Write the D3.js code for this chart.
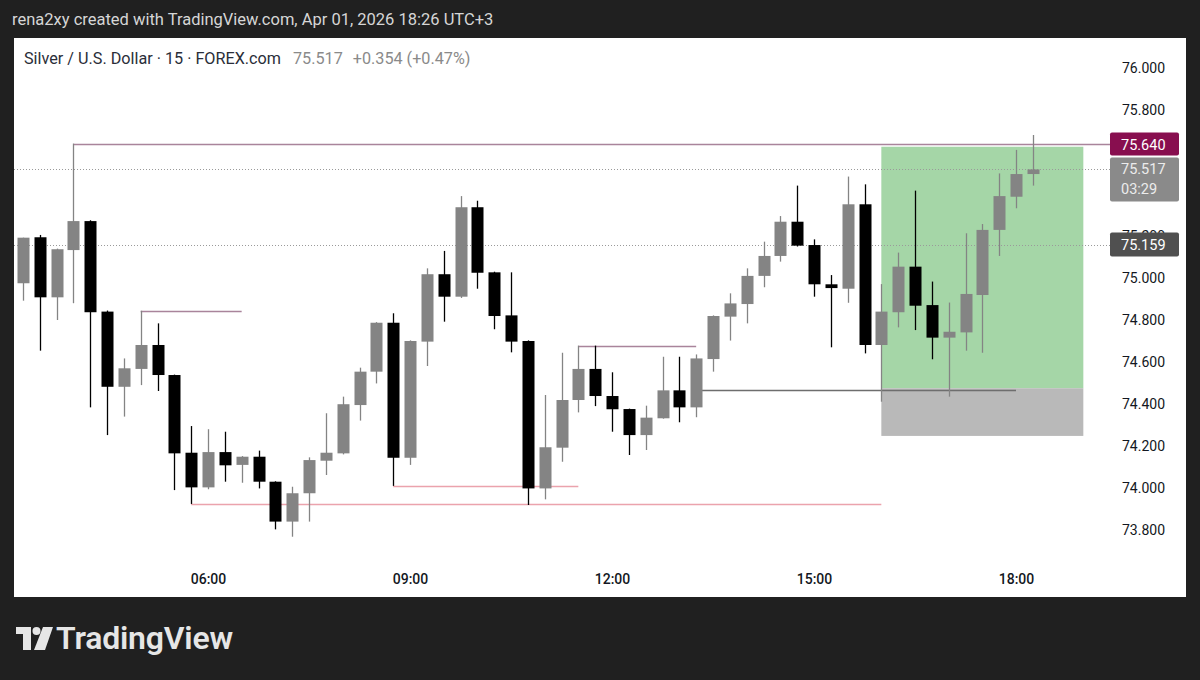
<!DOCTYPE html>
<html>
<head>
<meta charset="utf-8">
<script src="https://cdn.jsdelivr.net/npm/d3@7"></script>
<style>
  body { margin: 0; background: #202020; }
  svg { display: block; font-family: Roboto, "Noto Sans", sans-serif; }
</style>
</head>
<body>
<div id="chart"></div>
<script>
/**
 * CONSTANTS AND GLOBALS
 * */
const width = 1200,
  height = 680,
  panel = { left: 14, right: 1186, top: 38, bottom: 597 },
  plotRight = 1110;

/**
 * DATA (15 min candles)
 * */
const times = [
  "03:15", "03:30", "03:45", "04:00", "04:15", "04:30", "04:45", "05:00", "05:15", "05:30",
  "05:45", "06:00", "06:15", "06:30", "06:45", "07:00", "07:15", "07:30", "07:45", "08:00",
  "08:15", "08:30", "08:45", "09:00", "09:15", "09:30", "09:45", "10:00", "10:15", "10:30",
  "10:45", "11:00", "11:15", "11:30", "11:45", "12:00", "12:15", "12:30", "12:45", "13:00",
  "13:15", "13:30", "13:45", "14:00", "14:15", "14:30", "14:45", "15:00", "15:15", "15:30",
  "15:45", "16:00", "16:15", "16:30", "16:45", "17:00", "17:15", "17:30", "17:45", "18:00",
  "18:15"
];
const opens = [
  74.975, 75.194, 74.908, 75.133, 75.271, 74.840, 74.482, 74.567, 74.681, 74.538,
  74.168, 74.003, 74.171, 74.110, 74.149, 74.030, 73.840, 73.975, 74.130, 74.165,
  74.395, 74.554, 74.787, 74.144, 74.697, 75.018, 74.911, 75.337, 75.027, 74.822,
  74.700, 73.998, 74.192, 74.419, 74.567, 74.438, 74.376, 74.252, 74.332, 74.465,
  74.384, 74.614, 74.816, 74.876, 75.010, 75.105, 75.268, 75.157, 74.970, 74.949,
  75.351, 74.681, 74.837, 75.054, 74.871, 74.716, 74.741, 74.919, 75.229, 75.387,
  75.495
];
const highs = [
  75.192, 75.205, 75.140, 75.640, 75.275, 74.845, 74.617, 74.844, 74.784, 74.540,
  74.295, 74.280, 74.268, 74.152, 74.178, 74.032, 74.006, 74.146, 74.356, 74.435,
  74.573, 74.790, 74.832, 74.703, 75.046, 75.129, 75.390, 75.368, 75.030, 75.027,
  74.703, 74.443, 74.644, 74.678, 74.678, 74.551, 74.378, 74.392, 74.625, 74.625,
  74.636, 74.822, 74.927, 75.046, 75.173, 75.295, 75.440, 75.184, 75.014, 75.483,
  75.446, 74.971, 75.121, 75.416, 74.983, 74.883, 75.213, 75.257, 75.498, 75.610,
  75.681
];
const lows = [
  74.892, 74.654, 74.800, 74.880, 74.384, 74.252, 74.340, 74.490, 74.462, 73.990,
  73.924, 73.994, 74.030, 74.025, 73.998, 73.803, 73.768, 73.840, 74.062, 74.160,
  74.321, 74.498, 74.010, 74.110, 74.581, 74.792, 74.905, 74.949, 74.756, 74.646,
  73.919, 73.946, 74.125, 74.360, 74.390, 74.268, 74.157, 74.181, 74.330, 74.313,
  74.337, 74.554, 74.702, 74.784, 74.956, 75.078, 75.150, 74.911, 74.670, 74.882,
  74.641, 74.411, 74.765, 74.752, 74.613, 74.435, 74.654, 74.644, 75.105, 75.332,
  75.440
];
const closes = [
  75.192, 74.908, 75.137, 75.271, 74.837, 74.482, 74.570, 74.681, 74.538, 74.165,
  74.003, 74.171, 74.108, 74.149, 74.030, 73.840, 73.975, 74.133, 74.168, 74.399,
  74.554, 74.787, 74.144, 74.700, 75.018, 74.911, 75.337, 75.025, 74.819, 74.697,
  73.998, 74.194, 74.419, 74.567, 74.438, 74.375, 74.252, 74.335, 74.465, 74.384,
  74.617, 74.819, 74.879, 75.010, 75.105, 75.268, 75.154, 74.970, 74.952, 75.351,
  74.681, 74.840, 75.054, 74.868, 74.716, 74.744, 74.924, 75.229, 75.390, 75.495,
  75.517
];

// price and time axis labels (75.6 and 75.4 sit fully under the price boxes)
const priceTicks = [73.8, 74.0, 74.2, 74.4, 74.6, 74.8, 75.0, 75.2, 75.8, 76.0];
const timeTicks = ["06:00", "09:00", "12:00", "15:00", "18:00"];

// drawn horizontal rays
const rayPrices = [75.640, 74.844, 74.678, 73.924, 74.010, 74.465];
const rayStarts = ["04:00", "05:00", "11:30", "05:45", "08:45", "13:15"];
const rayEnds = [null, "06:30", "13:15", "16:00", "11:30", "18:00"];
const rayKinds = ["high", "high", "high", "low", "low", "mid"];

// dotted price lines (last price, previous close)
const dottedPrices = [75.517, 75.159];

// long position tool
const posStart = "16:00", posEnd = "19:00";
const posTarget = 75.625, posEntry = 74.475, posStop = 74.248;

const header = "rena2xy created with TradingView.com, Apr 01, 2026 18:26 UTC+3";
const title = "Silver / U.S. Dollar · 15 · FOREX.com";
const quote = ["75.517", "+0.354 (+0.47%)"];

/**
 * SCALES
 * */
const parseT = d3.utcParse("%Y-%m-%d %H:%M");
const toDate = s => parseT("2026-04-01 " + s);

const xScale = d3.scaleUtc()
  .domain([toDate("06:00"), toDate("18:00")])
  .range([208, 1016]);

const yScale = d3.scaleLinear()
  .domain([73.8, 76.0])
  .range([530, 68]);

const candles = times.map((t, i) => ({
  t: toDate(t), o: opens[i], h: highs[i], l: lows[i], c: closes[i]
}));

const svg = d3.select("#chart")
  .append("svg")
  .attr("width", width)
  .attr("height", height);

// dark frame
svg.append("rect").attr("width", width).attr("height", height).attr("fill", "#202020");

svg.append("text")
  .attr("x", 12).attr("y", 25)
  .attr("fill", "#d6d6d6")
  .attr("font-size", 16.5)
  .text(header);

// white chart panel
svg.append("rect")
  .attr("x", panel.left).attr("y", panel.top)
  .attr("width", panel.right - panel.left)
  .attr("height", panel.bottom - panel.top)
  .attr("fill", "#ffffff");

const t1 = svg.append("text")
  .attr("x", 24).attr("y", 64)
  .attr("font-size", 16.2)
  .attr("fill", "#2a2e39");
t1.append("tspan").text(title);
t1.append("tspan").attr("dx", 12).attr("fill", "#8a8a8a").text(quote[0]);
t1.append("tspan").attr("dx", 10).attr("fill", "#8a8a8a").text(quote[1]);

/**
 * POSITION TOOL
 * */
const px0 = xScale(toDate(posStart)), px1 = xScale(toDate(posEnd));
svg.append("rect")
  .attr("x", px0).attr("y", yScale(posTarget))
  .attr("width", px1 - px0)
  .attr("height", yScale(posEntry) - yScale(posTarget))
  .attr("fill", "#a5d6a7");
svg.append("rect")
  .attr("x", px0).attr("y", yScale(posEntry))
  .attr("width", px1 - px0)
  .attr("height", yScale(posStop) - yScale(posEntry))
  .attr("fill", "#b9b9b9");

// dotted price lines
svg.selectAll("line.dotted")
  .data(dottedPrices)
  .join("line")
  .attr("class", "dotted")
  .attr("x1", panel.left).attr("x2", plotRight)
  .attr("y1", d => Math.round(yScale(d)) + 0.5)
  .attr("y2", d => Math.round(yScale(d)) + 0.5)
  .attr("stroke", "#9a9a9a")
  .attr("stroke-width", 1)
  .attr("stroke-dasharray", "1,2");

// horizontal rays
const rayColor = { high: "#a9849b", low: "#eba3ad", mid: "#6e6e6e" };
svg.selectAll("line.ray")
  .data(rayPrices.map((p, i) => ({ p, s: rayStarts[i], e: rayEnds[i], k: rayKinds[i] })))
  .join("line")
  .attr("class", "ray")
  .attr("x1", d => xScale(toDate(d.s)))
  .attr("x2", d => d.e ? xScale(toDate(d.e)) : plotRight)
  .attr("y1", d => Math.round(yScale(d.p)) + 0.5)
  .attr("y2", d => Math.round(yScale(d.p)) + 0.5)
  .attr("stroke", d => rayColor[d.k])
  .attr("stroke-width", 1.5);

/**
 * CANDLES
 * */
const bodyW = 12;
const up = "#848484", down = "#000000";

const g = svg.append("g").attr("class", "candles");

g.selectAll("line.wick")
  .data(candles)
  .join("line")
  .attr("class", "wick")
  .attr("x1", d => Math.round(xScale(d.t)) + 0.5)
  .attr("x2", d => Math.round(xScale(d.t)) + 0.5)
  .attr("y1", d => yScale(d.h))
  .attr("y2", d => yScale(d.l))
  .attr("stroke", d => d.c >= d.o ? up : down)
  .attr("stroke-width", 1.3);

g.selectAll("rect.body")
  .data(candles)
  .join("rect")
  .attr("class", "body")
  .attr("x", d => Math.round(xScale(d.t)) + 0.5 - bodyW / 2)
  .attr("y", d => yScale(Math.max(d.o, d.c)))
  .attr("width", bodyW)
  .attr("height", d => Math.max(1.5, Math.abs(yScale(d.o) - yScale(d.c))))
  .attr("fill", d => d.c >= d.o ? up : down);

/**
 * AXES
 * */
const yAxis = d3.axisRight(yScale)
  .tickValues(priceTicks)
  .tickSize(0)
  .tickPadding(0)
  .tickFormat(d3.format(".3f"));

svg.append("g")
  .attr("transform", `translate(1122,0)`)
  .call(yAxis)
  .call(a => a.select(".domain").remove())
  .selectAll("text")
  .attr("font-family", "Roboto, sans-serif")
  .attr("font-size", 14)
  .attr("fill", "#131722");

const xAxis = d3.axisBottom(xScale)
  .tickValues(timeTicks.map(toDate))
  .tickSize(0)
  .tickPadding(0)
  .tickFormat(d3.utcFormat("%H:%M"));

svg.append("g")
  .attr("transform", `translate(0,574)`)
  .call(xAxis)
  .call(a => a.select(".domain").remove())
  .selectAll("text")
  .attr("font-family", "Roboto, sans-serif")
  .attr("font-size", 14)
  .attr("font-weight", 500)
  .attr("fill", "#131722");

// price labels on the scale
function priceBox(y0, y1, fill, lines, color) {
  svg.append("rect")
    .attr("x", 1110).attr("y", y0)
    .attr("width", 69).attr("height", y1 - y0)
    .attr("rx", 2)
    .attr("fill", fill);
  lines.forEach((txt, i) => {
    svg.append("text")
      .attr("x", 1121)
      .attr("y", y0 + 17 + i * 20)
      .attr("font-size", 14.5)
      .attr("fill", color)
      .text(txt);
  });
}
priceBox(yScale(75.640) - 11, yScale(75.640) + 12, "#880e4f", [d3.format(".3f")(75.640)], "#ffffff");
priceBox(yScale(75.517) - 12, yScale(75.517) + 32, "#8a8a8a", [d3.format(".3f")(75.517), "03:29"], "#ececec");
priceBox(yScale(75.159) - 12, yScale(75.159) + 12, "#505050", [d3.format(".3f")(75.159)], "#ffffff");

/**
 * TRADINGVIEW LOGO
 * */
const logo = svg.append("g").attr("fill", "#e6e6e6");
logo.append("path").attr("d", "M16,627 H31 V650 H23 V634 H16 Z");
logo.append("circle").attr("cx", 36.5).attr("cy", 631).attr("r", 4);
logo.append("path").attr("d", "M43,627 H53 L45,650 H34 Z");
logo.append("text")
  .attr("x", 56).attr("y", 649)
  .attr("font-size", 32)
  .attr("font-weight", 600)
  .attr("letter-spacing", -0.2)
  .text("TradingView");
</script>
</body>
</html>
